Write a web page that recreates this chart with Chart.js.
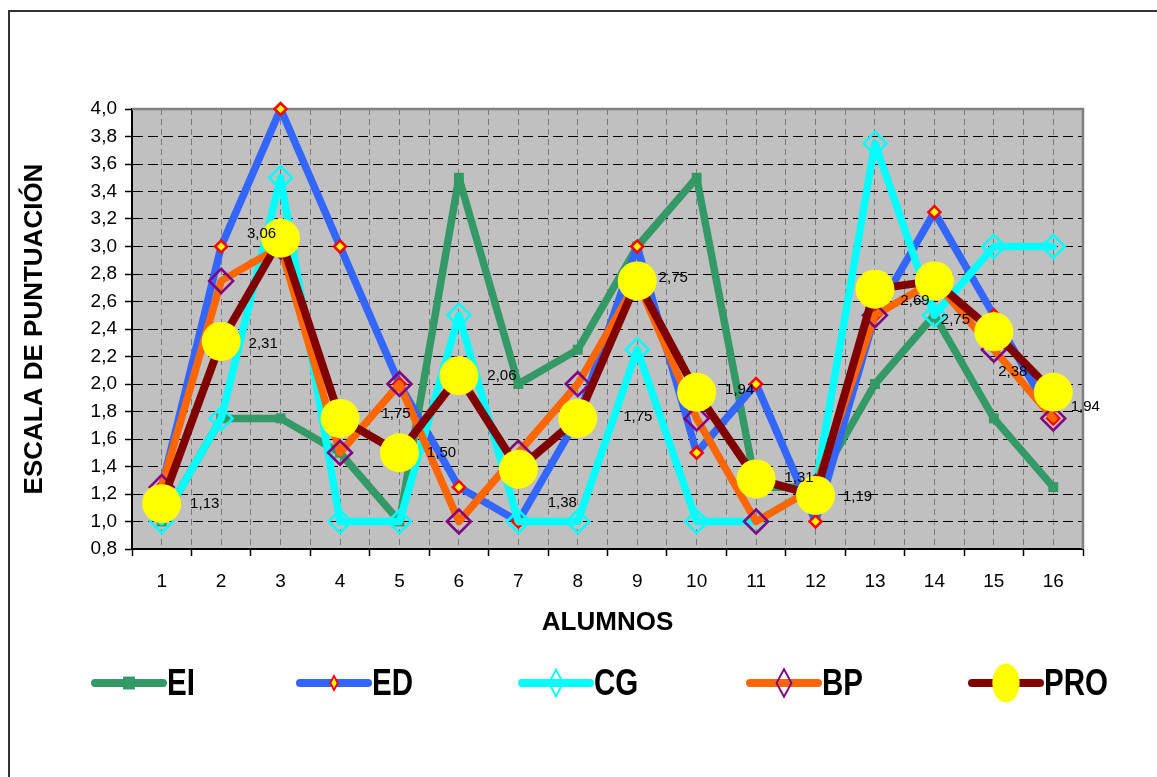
<!DOCTYPE html>
<html>
<head>
<meta charset="utf-8">
<title>Escala de puntuación por alumno</title>
<script src="https://cdn.jsdelivr.net/npm/chart.js@4.4.0/dist/chart.umd.min.js"></script>
<style>
  html, body { margin: 0; padding: 0; background: #fff; }
  #grafico { display: block; }
</style>
</head>
<body>
<canvas id="grafico" width="1157" height="777"></canvas>
<script>
// datos
const alumnos = [1, 2, 3, 4, 5, 6, 7, 8, 9, 10, 11, 12, 13, 14, 15, 16];
const serieEI = [1.0, 1.75, 1.75, 1.5, 1.0, 3.5, 2.0, 2.25, 3.0, 3.5, 1.25, 1.25, 2.0, 2.5, 1.75, 1.25];
const serieED = [1.25, 3.0, 4.0, 3.0, 2.0, 1.25, 1.0, 1.75, 3.0, 1.5, 2.0, 1.0, 2.5, 3.25, 2.5, 1.75];
const serieCG = [1.0, 1.75, 3.5, 1.0, 1.0, 2.5, 1.0, 1.0, 2.25, 1.0, 1.0, 1.25, 3.75, 2.5, 3.0, 3.0];
const serieBP = [1.25, 2.75, 3.0, 1.5, 2.0, 1.0, 1.5, 2.0, 2.75, 1.75, 1.0, 1.25, 2.5, 2.75, 2.25, 1.75];
const seriePRO = [1.13, 2.31, 3.06, 1.75, 1.50, 2.06, 1.38, 1.75, 2.75, 1.94, 1.31, 1.19, 2.69, 2.75, 2.38, 1.94];

// desplazamiento (px) de cada etiqueta de PRO respecto a su punto
const desplazEtiquetas = [
  [43, 0], [42, 2], [-19, -4], [56, -5], [42, 0], [43, 0], [44, 34], [60, -2],
  [36, -3], [43, -2], [43, -1], [42, 1], [40, 12], [21, 39], [19, 40], [32, 15]
];
// inicio de cada entrada de la leyenda
const leyendaX = [95, 300, 522, 750, 972];

const coma = (v, d) => v.toFixed(d).replace('.', ',');
const puntos = serie => alumnos.map((a, i) => ({ x: a, y: serie[i] }));

function marcador(ctx, estilo, r) {
  ctx.beginPath();
  if (estilo === 'rect') {
    const s = r * Math.SQRT1_2;
    ctx.rect(-s, -s, 2 * s, 2 * s);
  } else if (estilo === 'rectRot') {
    ctx.moveTo(0, -r); ctx.lineTo(r, 0); ctx.lineTo(0, r); ctx.lineTo(-r, 0); ctx.closePath();
  } else {
    ctx.arc(0, 0, r, 0, Math.PI * 2);
  }
}

const fondoYMarco = {
  id: 'fondoYMarco',
  beforeDraw(chart) {
    const { ctx, chartArea: a } = chart;
    ctx.save();
    ctx.strokeStyle = '#333';
    ctx.lineWidth = 2;
    ctx.beginPath();
    ctx.moveTo(9, 777); ctx.lineTo(9, 11); ctx.lineTo(1157, 11);
    ctx.stroke();
    ctx.fillStyle = '#C0C0C0';
    ctx.fillRect(a.left, a.top, a.right - a.left, a.bottom - a.top);
    ctx.restore();
  },
  beforeDatasetsDraw(chart) {
    const { ctx, chartArea: a } = chart;
    ctx.save();
    ctx.strokeStyle = '#808080';
    ctx.lineWidth = 2.5;
    ctx.beginPath();
    ctx.moveTo(a.left, a.top); ctx.lineTo(a.right, a.top); ctx.lineTo(a.right, a.bottom);
    ctx.stroke();
    ctx.restore();
  }
};

const etiquetasPRO = {
  id: 'etiquetasPRO',
  afterDatasetsDraw(chart) {
    const ctx = chart.ctx;
    const meta = chart.getDatasetMeta(4);
    ctx.save();
    ctx.font = '15px Arial';
    ctx.fillStyle = '#000';
    ctx.textAlign = 'center';
    ctx.textBaseline = 'middle';
    meta.data.forEach((p, i) => {
      const [dx, dy] = desplazEtiquetas[i];
      ctx.fillText(coma(seriePRO[i], 2), p.x + dx, p.y + dy);
    });
    ctx.restore();
  }
};

const leyenda = {
  id: 'leyenda',
  afterDraw(chart) {
    const ctx = chart.ctx;
    const y = 683;
    chart.data.datasets.forEach((ds, i) => {
      const x1 = leyendaX[i], x2 = x1 + 68, xm = (x1 + x2) / 2;
      ctx.save();
      ctx.strokeStyle = ds.borderColor;
      ctx.lineWidth = 8;
      ctx.lineCap = 'round';
      ctx.beginPath(); ctx.moveTo(x1, y); ctx.lineTo(x2, y); ctx.stroke();
      ctx.translate(xm, y);
      if (ds.pointStyle === 'rect') ctx.scale(1.2, 1.3);
      else if (ds.pointStyle === 'circle') ctx.scale(0.7, 1.0);
      else ctx.scale(0.62, 1.15);
      marcador(ctx, ds.pointStyle, ds.pointRadius);
      ctx.fillStyle = ds.pointBackgroundColor;
      ctx.fill();
      if (ds.pointBorderWidth > 0) {
        ctx.lineWidth = ds.pointBorderWidth;
        ctx.strokeStyle = ds.pointBorderColor;
        ctx.stroke();
      }
      ctx.restore();
      ctx.save();
      ctx.translate(x2 + 4, y);
      ctx.scale(0.82, 1);
      ctx.font = 'bold 36px Arial';
      ctx.fillStyle = '#000';
      ctx.textBaseline = 'middle';
      ctx.fillText(ds.label, 0, 2);
      ctx.restore();
    });
  }
};

const comun = { borderWidth: 7.5, borderJoinStyle: 'round', borderCapStyle: 'round', tension: 0, clip: false };

new Chart(document.getElementById('grafico'), {
  type: 'line',
  data: {
    datasets: [
      { ...comun, label: 'EI', data: puntos(serieEI), borderColor: '#339966',
        pointStyle: 'rect', pointRadius: 7, pointBorderWidth: 0, pointBackgroundColor: '#339966', order: 4 },
      { ...comun, label: 'ED', data: puntos(serieED), borderColor: '#3366FF',
        pointStyle: 'rectRot', pointRadius: 6, pointBorderWidth: 2.5, pointBorderColor: '#FF0000',
        pointBackgroundColor: '#FFFF00', order: 3 },
      { ...comun, label: 'CG', data: puntos(serieCG), borderColor: '#00FFFF',
        pointStyle: 'rectRot', pointRadius: 11.5, pointBorderWidth: 2.5, pointBorderColor: '#00FFFF',
        pointBackgroundColor: 'rgba(0,0,0,0)', order: 2 },
      { ...comun, label: 'BP', data: puntos(serieBP), borderColor: '#FF6600',
        pointStyle: 'rectRot', pointRadius: 12, pointBorderWidth: 2.5, pointBorderColor: '#800080',
        pointBackgroundColor: 'rgba(0,0,0,0)', order: 1 },
      { ...comun, label: 'PRO', data: puntos(seriePRO), borderColor: '#800000', borderWidth: 8,
        pointStyle: 'circle', pointRadius: 19.5, pointBorderWidth: 0, pointBackgroundColor: '#FFFF00', order: 0 }
    ]
  },
  options: {
    responsive: false,
    animation: false,
    layout: { padding: { left: 0, top: 109, right: 74, bottom: 136 } },
    plugins: { legend: { display: false }, tooltip: { enabled: false } },
    scales: {
      x: {
        type: 'linear', min: 0.5, max: 16.5,
        afterFit(s) { s.height = 92; },
        ticks: {
          stepSize: 0.5, autoSkip: false, maxRotation: 0, padding: 14, color: '#000',
          font: { family: 'Arial', size: 19 },
          callback: v => Number.isInteger(v) ? String(v) : ''
        },
        grid: {
          color: '#7a7a7a', lineWidth: 1, tickLength: 7, tickWidth: 1.5,
          tickColor: c => Number.isInteger(c.tick.value) ? 'rgba(0,0,0,0)' : '#000'
        },
        border: { color: '#000', width: 2, dash: [6, 4] },
        title: {
          display: true, text: 'ALUMNOS', color: '#000',
          font: { family: 'Arial', size: 26, weight: 'bold' }, padding: { top: 0, bottom: 3 }
        }
      },
      y: {
        min: 0.8, max: 4.0,
        afterFit(s) { s.width = 132; },
        ticks: {
          stepSize: 0.2, padding: 8, color: '#000',
          font: { family: 'Arial', size: 19 },
          callback: v => coma(v, 1)
        },
        grid: {
          lineWidth: 1, tickLength: 7, tickColor: '#000', tickWidth: 1.5,
          color: c => (c.tick.value < 0.81 || c.tick.value > 3.99) ? 'rgba(0,0,0,0)' : '#000'
        },
        border: { color: '#000', width: 2, dash: [10, 5] },
        title: {
          display: true, text: 'ESCALA DE PUNTUACIÓN', color: '#000',
          font: { family: 'Arial', size: 26, weight: 'bold' }, padding: { top: 19, bottom: 0 }
        }
      }
    }
  },
  plugins: [fondoYMarco, etiquetasPRO, leyenda]
});
</script>
</body>
</html>
